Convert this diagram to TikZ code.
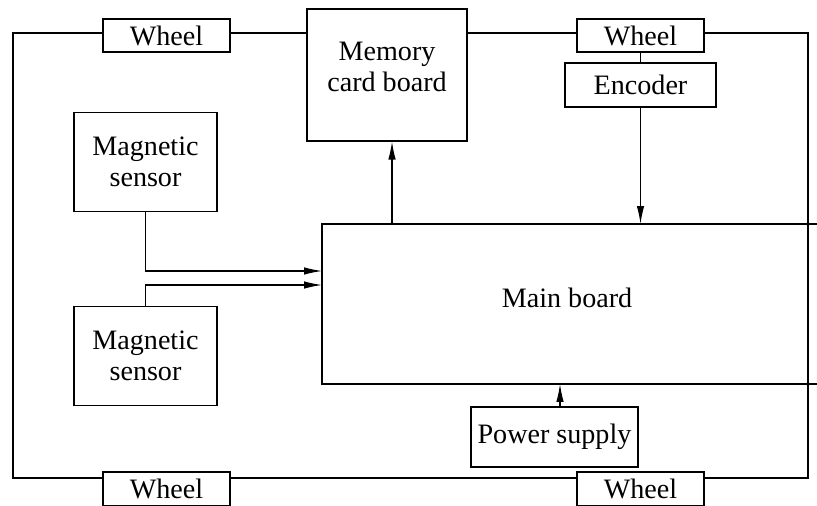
\documentclass[tikz,border=0pt]{standalone}
\usepackage{fontspec}
\setmainfont{Liberation Serif}
\usetikzlibrary{arrows.meta}
\begin{document}
\begin{tikzpicture}[
				x=0.02cm, y=-0.02cm,
				line width=0.65pt,
				every node/.style={draw,line width=0.65pt,inner sep=0pt,align=center,font=\fontsize{16}{17.5}\selectfont},
				wheel/.style={minimum width=2.54cm,minimum height=0.66cm},
				sensor/.style={minimum width=2.86cm,minimum height=1.97cm},
				arr/.style={-{Latex[length=0.36cm,width=0.15cm]}}
			]
				\useasboundingbox (0,0) rectangle (817,506);
				\node[wheel] (w1) at (166.5,35.5) {Wheel};
				\node[wheel] (w2) at (640.5,35.5) {Wheel};
				\node[wheel,minimum height=0.68cm] (w3) at (166.5,489) {Wheel};
				\node[wheel,minimum height=0.68cm] (w4) at (640.5,489) {Wheel};
				\node[minimum width=3.2cm,minimum height=2.64cm] (mem) at (387,75) {};
				\node[draw=none] at (387,67) {Memory\\card board};
				\node[minimum width=3.02cm,minimum height=0.88cm] (enc) at (640.5,85) {Encoder};
				\node[sensor] (s1) at (145.5,162) {Magnetic\\sensor};
				\node[sensor] (s2) at (145.5,356) {Magnetic\\sensor};
				\node[minimum width=3.34cm,minimum height=1.2cm] (pow) at (554.5,437) {Power supply};
				\coordinate (bNW) at (322,224);
				\coordinate (bNE) at (817,224);
				\coordinate (bSW) at (322,384);
				\coordinate (bSE) at (817,384);
				\draw (bNE) -- (bNW) -- (bSW) -- (bSE);
				\node[draw=none] (main) at (567,298) {Main board};
				\coordinate (c1) at (13,33);
				\coordinate (c2) at (808,33);
				\coordinate (c3) at (808,478);
				\coordinate (c4) at (13,478);
				\coordinate (in1) at (322,271);
				\coordinate (in2) at (322,285);
				\coordinate (in3) at (560,384);
				\coordinate (out1) at (392,224);
				\draw (w1.west |- c1) -- (c1) -- (c4) -- (w3.west |- c4);
				\draw (w1.east |- c1) -- (mem.west |- c1);
				\draw (mem.east |- c1) -- (w2.west |- c1);
				\draw (w2.east |- c2) -- (c2) -- (c3) -- (w4.east |- c3);
				\draw (w3.east |- c4) -- (w4.west |- c3);
				\draw (w2) -- (enc);
				\draw[arr] (enc.south) -- (enc.south |- bNW);
				\draw[arr] (out1) -- (out1 |- mem.south);
				\draw[arr] (s1.south) |- (in1);
				\draw[arr] (s2.north) |- (in2);
				\draw[arr] (in3 |- pow.north) -- (in3);
			\end{tikzpicture}
\end{document}
